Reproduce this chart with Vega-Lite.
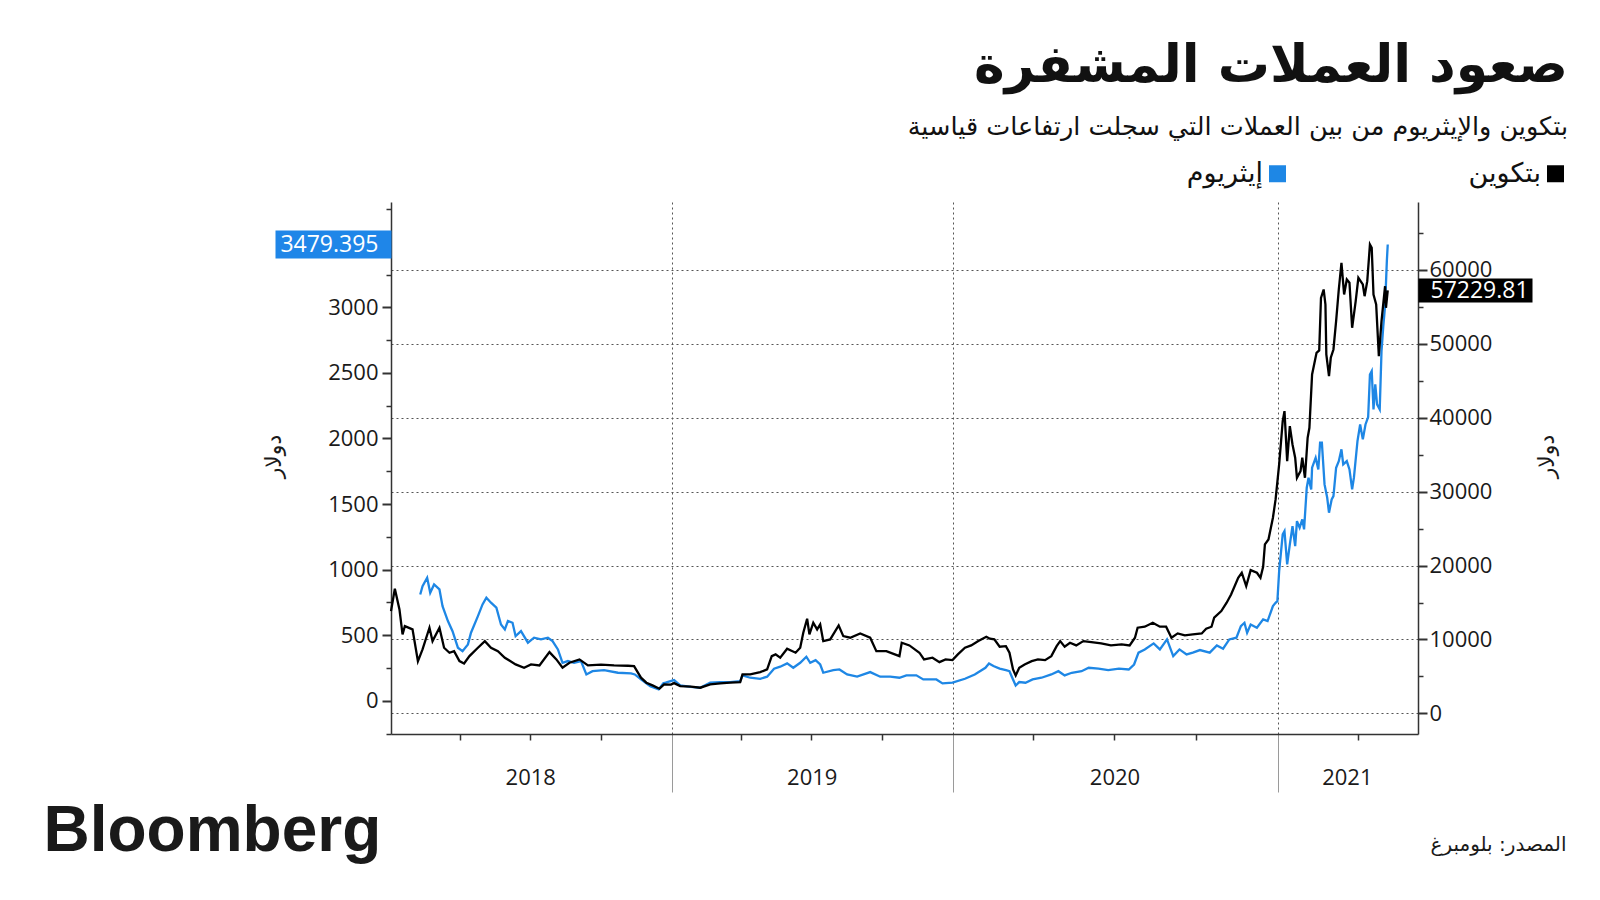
{
"$schema": "https://vega.github.io/schema/vega-lite/v6.json",
"width": 1027, "height": 532,
"autosize": {"type": "none"},
"padding": {"left": 391, "top": 202, "right": 182, "bottom": 166},
"background": "white",
"config": {
  "view": {"stroke": null},
  "axis": {"labelFont": "Open Sans", "labelFontSize": 22, "labelColor": "#1a1a1a", "titleFont": "DejaVu Sans", "titleFontWeight": "normal", "titleFontSize": 22, "titleColor": "#1a1a1a", "domainColor": "#333333", "tickColor": "#333333", "labelOverlap": false, "labelBound": false, "labelFlush": false}
},
"title": {"text": "صعود العملات المشفرة", "subtitle": "بتكوين والإيثريوم من بين العملات التي سجلت ارتفاعات قياسية", "anchor": "end", "frame": "group", "dx": 150, "font": "DejaVu Sans", "fontSize": 52, "fontWeight": "bold", "color": "#111111", "subtitleFont": "DejaVu Sans", "subtitleFontSize": 25.5, "subtitleColor": "#111111", "subtitlePadding": 22, "offset": 19},
"datasets": {"p": [
{"d":"2018-01-01","s":"BTC","v":13837},{"d":"2018-01-06","s":"BTC","v":16866},{"d":"2018-01-12","s":"BTC","v":14067},{"d":"2018-01-16","s":"BTC","v":10686},{"d":"2018-01-19","s":"BTC","v":11808},{"d":"2018-01-29","s":"BTC","v":11362},{"d":"2018-02-05","s":"BTC","v":7074},{"d":"2018-02-11","s":"BTC","v":8657},{"d":"2018-02-20","s":"BTC","v":11590},{"d":"2018-02-24","s":"BTC","v":9780},{"d":"2018-03-05","s":"BTC","v":11590},{"d":"2018-03-11","s":"BTC","v":8886},{"d":"2018-03-18","s":"BTC","v":8210},{"d":"2018-03-24","s":"BTC","v":8427},{"d":"2018-03-31","s":"BTC","v":7074},{"d":"2018-04-06","s":"BTC","v":6763},{"d":"2018-04-13","s":"BTC","v":7751},{"d":"2018-04-24","s":"BTC","v":8886},{"d":"2018-05-03","s":"BTC","v":9780},{"d":"2018-05-11","s":"BTC","v":8886},{"d":"2018-05-20","s":"BTC","v":8427},{"d":"2018-05-29","s":"BTC","v":7534},{"d":"2018-06-12","s":"BTC","v":6628},{"d":"2018-06-23","s":"BTC","v":6181},{"d":"2018-07-02","s":"BTC","v":6628},{"d":"2018-07-13","s":"BTC","v":6492},{"d":"2018-07-26","s":"BTC","v":8291},{"d":"2018-08-04","s":"BTC","v":7304},{"d":"2018-08-12","s":"BTC","v":6181},{"d":"2018-08-21","s":"BTC","v":6858},{"d":"2018-09-03","s":"BTC","v":7304},{"d":"2018-09-14","s":"BTC","v":6492},{"d":"2018-10-01","s":"BTC","v":6600},{"d":"2018-10-18","s":"BTC","v":6500},{"d":"2018-11-05","s":"BTC","v":6450},{"d":"2018-11-13","s":"BTC","v":6400},{"d":"2018-11-22","s":"BTC","v":4829},{"d":"2018-11-29","s":"BTC","v":4153},{"d":"2018-12-07","s":"BTC","v":3787},{"d":"2018-12-16","s":"BTC","v":3341},{"d":"2018-12-22","s":"BTC","v":3922},{"d":"2018-12-31","s":"BTC","v":3900},{"d":"2019-01-04","s":"BTC","v":4100},{"d":"2019-01-12","s":"BTC","v":3693},{"d":"2019-01-26","s":"BTC","v":3611},{"d":"2019-02-07","s":"BTC","v":3476},{"d":"2019-02-20","s":"BTC","v":3923},{"d":"2019-03-05","s":"BTC","v":4058},{"d":"2019-03-18","s":"BTC","v":4153},{"d":"2019-03-31","s":"BTC","v":4234},{"d":"2019-04-03","s":"BTC","v":5275},{"d":"2019-04-13","s":"BTC","v":5275},{"d":"2019-04-26","s":"BTC","v":5586},{"d":"2019-05-05","s":"BTC","v":5951},{"d":"2019-05-11","s":"BTC","v":7751},{"d":"2019-05-16","s":"BTC","v":7980},{"d":"2019-05-22","s":"BTC","v":7534},{"d":"2019-05-31","s":"BTC","v":8751},{"d":"2019-06-11","s":"BTC","v":8210},{"d":"2019-06-17","s":"BTC","v":8886},{"d":"2019-06-21","s":"BTC","v":10915},{"d":"2019-06-26","s":"BTC","v":12809},{"d":"2019-06-29","s":"BTC","v":10686},{"d":"2019-07-04","s":"BTC","v":12268},{"d":"2019-07-09","s":"BTC","v":11362},{"d":"2019-07-13","s":"BTC","v":12038},{"d":"2019-07-17","s":"BTC","v":9780},{"d":"2019-07-26","s":"BTC","v":10009},{"d":"2019-08-06","s":"BTC","v":11903},{"d":"2019-08-12","s":"BTC","v":10456},{"d":"2019-08-21","s":"BTC","v":10239},{"d":"2019-09-03","s":"BTC","v":10821},{"d":"2019-09-16","s":"BTC","v":10239},{"d":"2019-09-24","s":"BTC","v":8427},{"d":"2019-10-07","s":"BTC","v":8427},{"d":"2019-10-18","s":"BTC","v":7980},{"d":"2019-10-24","s":"BTC","v":7751},{"d":"2019-10-27","s":"BTC","v":9563},{"d":"2019-11-06","s":"BTC","v":9198},{"d":"2019-11-19","s":"BTC","v":8210},{"d":"2019-11-25","s":"BTC","v":7304},{"d":"2019-12-06","s":"BTC","v":7534},{"d":"2019-12-15","s":"BTC","v":6939},{"d":"2019-12-23","s":"BTC","v":7304},{"d":"2020-01-01","s":"BTC","v":7210},{"d":"2020-01-07","s":"BTC","v":7980},{"d":"2020-01-15","s":"BTC","v":8886},{"d":"2020-01-22","s":"BTC","v":9198},{"d":"2020-01-30","s":"BTC","v":9780},{"d":"2020-02-08","s":"BTC","v":10375},{"d":"2020-02-12","s":"BTC","v":10104},{"d":"2020-02-17","s":"BTC","v":10009},{"d":"2020-02-23","s":"BTC","v":9022},{"d":"2020-03-01","s":"BTC","v":9103},{"d":"2020-03-05","s":"BTC","v":8210},{"d":"2020-03-09","s":"BTC","v":5951},{"d":"2020-03-12","s":"BTC","v":5140},{"d":"2020-03-16","s":"BTC","v":6181},{"d":"2020-03-22","s":"BTC","v":6628},{"d":"2020-03-30","s":"BTC","v":7074},{"d":"2020-04-06","s":"BTC","v":7304},{"d":"2020-04-14","s":"BTC","v":7210},{"d":"2020-04-21","s":"BTC","v":7751},{"d":"2020-04-27","s":"BTC","v":9103},{"d":"2020-05-01","s":"BTC","v":9780},{"d":"2020-05-06","s":"BTC","v":9022},{"d":"2020-05-12","s":"BTC","v":9563},{"d":"2020-05-19","s":"BTC","v":9198},{"d":"2020-05-27","s":"BTC","v":9780},{"d":"2020-06-05","s":"BTC","v":9644},{"d":"2020-06-16","s":"BTC","v":9468},{"d":"2020-06-27","s":"BTC","v":9198},{"d":"2020-07-09","s":"BTC","v":9333},{"d":"2020-07-18","s":"BTC","v":9198},{"d":"2020-07-24","s":"BTC","v":10239},{"d":"2020-07-27","s":"BTC","v":11590},{"d":"2020-08-04","s":"BTC","v":11727},{"d":"2020-08-13","s":"BTC","v":12268},{"d":"2020-08-21","s":"BTC","v":11727},{"d":"2020-08-28","s":"BTC","v":11727},{"d":"2020-09-03","s":"BTC","v":10239},{"d":"2020-09-10","s":"BTC","v":10821},{"d":"2020-09-18","s":"BTC","v":10550},{"d":"2020-09-27","s":"BTC","v":10686},{"d":"2020-10-07","s":"BTC","v":10821},{"d":"2020-10-12","s":"BTC","v":11457},{"d":"2020-10-18","s":"BTC","v":11727},{"d":"2020-10-21","s":"BTC","v":12945},{"d":"2020-10-29","s":"BTC","v":13837},{"d":"2020-11-04","s":"BTC","v":14973},{"d":"2020-11-09","s":"BTC","v":16096},{"d":"2020-11-17","s":"BTC","v":18355},{"d":"2020-11-21","s":"BTC","v":19031},{"d":"2020-11-26","s":"BTC","v":17218},{"d":"2020-12-01","s":"BTC","v":19383},{"d":"2020-12-08","s":"BTC","v":19031},{"d":"2020-12-12","s":"BTC","v":18355},{"d":"2020-12-15","s":"BTC","v":19843},{"d":"2020-12-17","s":"BTC","v":22859},{"d":"2020-12-21","s":"BTC","v":23535},{"d":"2020-12-26","s":"BTC","v":26471},{"d":"2020-12-29","s":"BTC","v":28946},{"d":"2021-01-02","s":"BTC","v":33680},{"d":"2021-01-06","s":"BTC","v":39537},{"d":"2021-01-08","s":"BTC","v":40890},{"d":"2021-01-11","s":"BTC","v":34127},{"d":"2021-01-14","s":"BTC","v":38861},{"d":"2021-01-17","s":"BTC","v":36385},{"d":"2021-01-20","s":"BTC","v":34587},{"d":"2021-01-22","s":"BTC","v":31881},{"d":"2021-01-26","s":"BTC","v":32774},{"d":"2021-01-28","s":"BTC","v":34587},{"d":"2021-01-31","s":"BTC","v":31881},{"d":"2021-02-03","s":"BTC","v":37290},{"d":"2021-02-05","s":"BTC","v":38643},{"d":"2021-02-08","s":"BTC","v":45853},{"d":"2021-02-13","s":"BTC","v":48789},{"d":"2021-02-16","s":"BTC","v":49099},{"d":"2021-02-18","s":"BTC","v":56221},{"d":"2021-02-21","s":"BTC","v":57350},{"d":"2021-02-23","s":"BTC","v":55321},{"d":"2021-02-24","s":"BTC","v":48558},{"d":"2021-02-27","s":"BTC","v":45620},{"d":"2021-03-01","s":"BTC","v":48113},{"d":"2021-03-04","s":"BTC","v":49234},{"d":"2021-03-07","s":"BTC","v":53063},{"d":"2021-03-10","s":"BTC","v":57350},{"d":"2021-03-13","s":"BTC","v":60962},{"d":"2021-03-16","s":"BTC","v":56674},{"d":"2021-03-19","s":"BTC","v":58703},{"d":"2021-03-22","s":"BTC","v":58256},{"d":"2021-03-25","s":"BTC","v":52170},{"d":"2021-03-29","s":"BTC","v":55768},{"d":"2021-04-01","s":"BTC","v":58933},{"d":"2021-04-06","s":"BTC","v":58027},{"d":"2021-04-08","s":"BTC","v":56444},{"d":"2021-04-11","s":"BTC","v":58475},{"d":"2021-04-14","s":"BTC","v":63437},{"d":"2021-04-16","s":"BTC","v":62990},{"d":"2021-04-18","s":"BTC","v":56674},{"d":"2021-04-21","s":"BTC","v":55321},{"d":"2021-04-24","s":"BTC","v":48330},{"d":"2021-04-27","s":"BTC","v":53063},{"d":"2021-05-01","s":"BTC","v":57797},{"d":"2021-05-02","s":"BTC","v":54876},{"d":"2021-05-04","s":"BTC","v":57229.81},
{"d":"2018-02-08","s":"ETH","v":811},{"d":"2018-02-11","s":"ETH","v":874},{"d":"2018-02-17","s":"ETH","v":938},{"d":"2018-02-21","s":"ETH","v":824},{"d":"2018-02-26","s":"ETH","v":887},{"d":"2018-03-05","s":"ETH","v":849},{"d":"2018-03-09","s":"ETH","v":722},{"d":"2018-03-16","s":"ETH","v":608},{"d":"2018-03-22","s":"ETH","v":531},{"d":"2018-03-29","s":"ETH","v":405},{"d":"2018-04-04","s":"ETH","v":379},{"d":"2018-04-11","s":"ETH","v":430},{"d":"2018-04-15","s":"ETH","v":519},{"d":"2018-04-24","s":"ETH","v":646},{"d":"2018-04-30","s":"ETH","v":735},{"d":"2018-05-05","s":"ETH","v":786},{"d":"2018-05-11","s":"ETH","v":748},{"d":"2018-05-18","s":"ETH","v":710},{"d":"2018-05-24","s":"ETH","v":582},{"d":"2018-05-29","s":"ETH","v":544},{"d":"2018-06-02","s":"ETH","v":608},{"d":"2018-06-08","s":"ETH","v":595},{"d":"2018-06-12","s":"ETH","v":493},{"d":"2018-06-19","s":"ETH","v":531},{"d":"2018-06-28","s":"ETH","v":443},{"d":"2018-07-06","s":"ETH","v":481},{"d":"2018-07-15","s":"ETH","v":468},{"d":"2018-07-24","s":"ETH","v":481},{"d":"2018-07-30","s":"ETH","v":455},{"d":"2018-08-06","s":"ETH","v":392},{"d":"2018-08-12","s":"ETH","v":290},{"d":"2018-08-19","s":"ETH","v":303},{"d":"2018-08-27","s":"ETH","v":290},{"d":"2018-09-05","s":"ETH","v":303},{"d":"2018-09-12","s":"ETH","v":201},{"d":"2018-09-20","s":"ETH","v":226},{"d":"2018-10-05","s":"ETH","v":234},{"d":"2018-10-23","s":"ETH","v":214},{"d":"2018-11-09","s":"ETH","v":209},{"d":"2018-11-14","s":"ETH","v":201},{"d":"2018-11-22","s":"ETH","v":163},{"d":"2018-12-04","s":"ETH","v":112},{"d":"2018-12-15","s":"ETH","v":87},{"d":"2018-12-21","s":"ETH","v":133},{"d":"2018-12-24","s":"ETH","v":138},{"d":"2019-01-04","s":"ETH","v":158},{"d":"2019-01-12","s":"ETH","v":117},{"d":"2019-01-26","s":"ETH","v":107},{"d":"2019-02-07","s":"ETH","v":100},{"d":"2019-02-20","s":"ETH","v":138},{"d":"2019-03-05","s":"ETH","v":143},{"d":"2019-03-18","s":"ETH","v":143},{"d":"2019-03-31","s":"ETH","v":150},{"d":"2019-04-03","s":"ETH","v":194},{"d":"2019-04-13","s":"ETH","v":176},{"d":"2019-04-26","s":"ETH","v":168},{"d":"2019-05-05","s":"ETH","v":184},{"d":"2019-05-14","s":"ETH","v":245},{"d":"2019-05-22","s":"ETH","v":260},{"d":"2019-05-31","s":"ETH","v":285},{"d":"2019-06-08","s":"ETH","v":252},{"d":"2019-06-17","s":"ETH","v":290},{"d":"2019-06-25","s":"ETH","v":336},{"d":"2019-06-30","s":"ETH","v":290},{"d":"2019-07-07","s":"ETH","v":310},{"d":"2019-07-13","s":"ETH","v":277},{"d":"2019-07-17","s":"ETH","v":214},{"d":"2019-07-30","s":"ETH","v":234},{"d":"2019-08-07","s":"ETH","v":239},{"d":"2019-08-17","s":"ETH","v":201},{"d":"2019-08-30","s":"ETH","v":184},{"d":"2019-09-16","s":"ETH","v":219},{"d":"2019-09-29","s":"ETH","v":184},{"d":"2019-10-12","s":"ETH","v":184},{"d":"2019-10-24","s":"ETH","v":176},{"d":"2019-11-02","s":"ETH","v":194},{"d":"2019-11-15","s":"ETH","v":194},{"d":"2019-11-24","s":"ETH","v":163},{"d":"2019-12-11","s":"ETH","v":163},{"d":"2019-12-19","s":"ETH","v":133},{"d":"2020-01-01","s":"ETH","v":138},{"d":"2020-01-15","s":"ETH","v":168},{"d":"2020-01-26","s":"ETH","v":201},{"d":"2020-02-07","s":"ETH","v":252},{"d":"2020-02-11","s":"ETH","v":285},{"d":"2020-02-16","s":"ETH","v":265},{"d":"2020-02-23","s":"ETH","v":245},{"d":"2020-03-01","s":"ETH","v":234},{"d":"2020-03-05","s":"ETH","v":226},{"d":"2020-03-09","s":"ETH","v":163},{"d":"2020-03-12","s":"ETH","v":117},{"d":"2020-03-16","s":"ETH","v":143},{"d":"2020-03-23","s":"ETH","v":138},{"d":"2020-03-31","s":"ETH","v":163},{"d":"2020-04-10","s":"ETH","v":176},{"d":"2020-04-21","s":"ETH","v":201},{"d":"2020-04-29","s":"ETH","v":226},{"d":"2020-05-06","s":"ETH","v":194},{"d":"2020-05-14","s":"ETH","v":214},{"d":"2020-05-25","s":"ETH","v":226},{"d":"2020-06-02","s":"ETH","v":252},{"d":"2020-06-13","s":"ETH","v":245},{"d":"2020-06-24","s":"ETH","v":234},{"d":"2020-07-06","s":"ETH","v":245},{"d":"2020-07-17","s":"ETH","v":239},{"d":"2020-07-23","s":"ETH","v":277},{"d":"2020-07-28","s":"ETH","v":367},{"d":"2020-08-04","s":"ETH","v":392},{"d":"2020-08-14","s":"ETH","v":438},{"d":"2020-08-21","s":"ETH","v":392},{"d":"2020-08-29","s":"ETH","v":468},{"d":"2020-09-05","s":"ETH","v":341},{"d":"2020-09-12","s":"ETH","v":392},{"d":"2020-09-20","s":"ETH","v":354},{"d":"2020-09-27","s":"ETH","v":367},{"d":"2020-10-05","s":"ETH","v":387},{"d":"2020-10-16","s":"ETH","v":367},{"d":"2020-10-24","s":"ETH","v":422},{"d":"2020-10-31","s":"ETH","v":397},{"d":"2020-11-07","s":"ETH","v":468},{"d":"2020-11-15","s":"ETH","v":481},{"d":"2020-11-20","s":"ETH","v":570},{"d":"2020-11-24","s":"ETH","v":595},{"d":"2020-11-27","s":"ETH","v":519},{"d":"2020-12-01","s":"ETH","v":582},{"d":"2020-12-08","s":"ETH","v":557},{"d":"2020-12-15","s":"ETH","v":621},{"d":"2020-12-20","s":"ETH","v":608},{"d":"2020-12-26","s":"ETH","v":722},{"d":"2020-12-29","s":"ETH","v":747},{"d":"2020-12-31","s":"ETH","v":760},{"d":"2021-01-02","s":"ETH","v":989},{"d":"2021-01-06","s":"ETH","v":1269},{"d":"2021-01-08","s":"ETH","v":1294},{"d":"2021-01-11","s":"ETH","v":1040},{"d":"2021-01-14","s":"ETH","v":1192},{"d":"2021-01-17","s":"ETH","v":1332},{"d":"2021-01-20","s":"ETH","v":1179},{"d":"2021-01-22","s":"ETH","v":1370},{"d":"2021-01-25","s":"ETH","v":1320},{"d":"2021-01-28","s":"ETH","v":1383},{"d":"2021-01-30","s":"ETH","v":1307},{"d":"2021-02-02","s":"ETH","v":1625},{"d":"2021-02-04","s":"ETH","v":1701},{"d":"2021-02-07","s":"ETH","v":1612},{"d":"2021-02-08","s":"ETH","v":1777},{"d":"2021-02-12","s":"ETH","v":1853},{"d":"2021-02-15","s":"ETH","v":1764},{"d":"2021-02-17","s":"ETH","v":1968},{"d":"2021-02-19","s":"ETH","v":1968},{"d":"2021-02-22","s":"ETH","v":1650},{"d":"2021-02-25","s":"ETH","v":1548},{"d":"2021-02-27","s":"ETH","v":1434},{"d":"2021-03-02","s":"ETH","v":1535},{"d":"2021-03-04","s":"ETH","v":1561},{"d":"2021-03-07","s":"ETH","v":1777},{"d":"2021-03-10","s":"ETH","v":1827},{"d":"2021-03-13","s":"ETH","v":1917},{"d":"2021-03-15","s":"ETH","v":1802},{"d":"2021-03-19","s":"ETH","v":1827},{"d":"2021-03-22","s":"ETH","v":1764},{"d":"2021-03-25","s":"ETH","v":1612},{"d":"2021-03-27","s":"ETH","v":1701},{"d":"2021-03-31","s":"ETH","v":1980},{"d":"2021-04-03","s":"ETH","v":2107},{"d":"2021-04-06","s":"ETH","v":1993},{"d":"2021-04-09","s":"ETH","v":2107},{"d":"2021-04-12","s":"ETH","v":2163},{"d":"2021-04-14","s":"ETH","v":2488},{"d":"2021-04-16","s":"ETH","v":2514},{"d":"2021-04-18","s":"ETH","v":2222},{"d":"2021-04-20","s":"ETH","v":2412},{"d":"2021-04-22","s":"ETH","v":2260},{"d":"2021-04-25","s":"ETH","v":2222},{"d":"2021-04-27","s":"ETH","v":2666},{"d":"2021-04-29","s":"ETH","v":2857},{"d":"2021-05-01","s":"ETH","v":3009},{"d":"2021-05-03","s":"ETH","v":3352},{"d":"2021-05-04","s":"ETH","v":3479.395}
]},
"data": {"name": "p"},
"layer": [
  {
    "transform": [{"filter": "datum.s === 'ETH'"}],
    "mark": {"type": "line", "strokeWidth": 2.3},
    "encoding": {
      "x": {"field": "d", "type": "temporal",
        "scale": {"type": "utc", "nice": false, "domain": [1514764800000, 1577836800000, 1623024000000], "domainRaw": {"expr": "[utc(2018,0,1), utc(2020,0,1), utc(2021,5,7)]"}, "range": [0, 561.5, 1027]},
        "axis": {"orient": "bottom", "values": [1546300800000, 1577836800000, 1609459200000],
          "grid": true, "gridDash": [2, 3], "gridColor": "#555555", "gridWidth": 1,
          "ticks": true, "tickSize": 58, "tickColor": "#9a9a9a", "tickWidth": 1,
          "labels": false, "domain": true, "domainColor": "#333333", "domainWidth": 1.5,
          "title": "Bloomberg", "titleFont": "Liberation Sans", "titleFontSize": 64, "titleFontWeight": "bold", "titleColor": "#1a1a1a", "titleX": -348, "titleY": 116, "titleAlign": "left", "titleBaseline": "alphabetic", "titleAngle": 0}},
      "y": {"field": "v", "type": "quantitative",
        "scale": {"domain": [-253, 3803], "nice": false, "zero": false},
        "axis": {"orient": "left", "values": [-250, 0, 250, 500, 750, 1000, 1250, 1500, 1750, 2000, 2250, 2500, 2750, 3000, 3250, 3750],
          "labelExpr": "datum.value % 500 === 0 && datum.value >= 0 && datum.value <= 3000 ? datum.value : ''",
          "tickSize": {"condition": {"test": "datum.value % 500 === 0", "value": 9}, "value": 5},
          "tickWidth": {"condition": {"test": "datum.value % 500 === 0", "value": 2}, "value": 1.5},
          "labelPadding": 4, "grid": false, "domain": true, "domainWidth": 1.5,
          "title": "دولار", "titleAngle": 270, "titleX": -118, "titleY": 254, "titleAlign": "center", "titleBaseline": "middle"}},
      "color": {"field": "s", "type": "nominal", "scale": {"domain": ["ETH", "BTC"], "range": ["#1e87e5", "#000000"]},
        "legend": {"title": null, "orient": "none", "legendX": 873, "legendY": -42, "direction": "horizontal", "symbolType": "square", "symbolSize": 289, "symbolStrokeWidth": 0, "labelFont": "DejaVu Sans", "labelFontSize": 27, "labelColor": "#111111", "labelAlign": "right", "labelOffset": -28, "columnPadding": 182, "labelLimit": 300, "padding": 0,
          "labelExpr": "datum.label === 'BTC' ? 'بتكوين' : 'إيثريوم'",
          "encode": {"symbols": {"update": {"fill": {"scale": "color", "field": "value"}, "opacity": {"value": 1}}}}}}
    }
  },
  {
    "transform": [{"filter": "datum.s === 'BTC'"}],
    "mark": {"type": "line", "strokeWidth": 2.3},
    "encoding": {
      "x": {"field": "d", "type": "temporal",
        "scale": {"type": "utc", "nice": false, "domain": [1514764800000, 1577836800000, 1623024000000], "domainRaw": {"expr": "[utc(2018,0,1), utc(2020,0,1), utc(2021,5,7)]"}, "range": [0, 561.5, 1027]},
        "axis": {"orient": "bottom", "values": [1522540800000, 1530403200000, 1538352000000, 1554076800000, 1561939200000, 1569888000000, 1585699200000, 1593561600000, 1601510400000, 1617235200000],
          "grid": false, "ticks": true, "tickSize": 6, "tickWidth": 1.5, "tickColor": "#333333", "labels": false, "domain": false,
          "title": "المصدر: بلومبرغ", "titleFont": "DejaVu Sans", "titleFontSize": 20, "titleColor": "#1a1a1a", "titleX": 1175, "titleY": 110, "titleAlign": "right", "titleBaseline": "middle", "titleAngle": 0}},
      "y": {"field": "v", "type": "quantitative",
        "scale": {"domain": [-2786, 69186], "nice": false, "zero": false},
        "axis": {"orient": "right", "values": [0, 5000, 10000, 15000, 20000, 25000, 30000, 35000, 40000, 45000, 50000, 55000, 60000, 65000],
          "labelExpr": "datum.value % 10000 === 0 ? datum.value : ''",
          "tickSize": {"condition": {"test": "datum.value % 10000 === 0", "value": 9}, "value": 5},
          "tickWidth": {"condition": {"test": "datum.value % 10000 === 0", "value": 2}, "value": 1.5},
          "labelPadding": 2, "grid": true, "gridDash": [2, 3], "gridColor": "#555555", "gridWidth": 1,
          "gridOpacity": {"condition": {"test": "datum.value % 10000 === 0", "value": 1}, "value": 0},
          "domain": true, "domainWidth": 1.5,
          "title": "دولار", "titleAngle": 270, "titleX": 128, "titleY": 254, "titleAlign": "center", "titleBaseline": "middle"}},
      "color": {"field": "s", "type": "nominal", "scale": {"domain": ["ETH", "BTC"], "range": ["#1e87e5", "#000000"]},
        "legend": {"title": null, "orient": "none", "legendX": 873, "legendY": -42, "direction": "horizontal", "symbolType": "square", "symbolSize": 289, "symbolStrokeWidth": 0, "labelFont": "DejaVu Sans", "labelFontSize": 27, "labelColor": "#111111", "labelAlign": "right", "labelOffset": -28, "columnPadding": 182, "labelLimit": 300, "padding": 0,
          "labelExpr": "datum.label === 'BTC' ? 'بتكوين' : 'إيثريوم'",
          "encode": {"symbols": {"update": {"fill": {"scale": "color", "field": "value"}, "opacity": {"value": 1}}}}}}
    }
  },
  {
    "transform": [{"filter": "datum.s === 'ETH' && datum.d === '2021-05-04'"}],
    "mark": {"type": "point", "opacity": 0},
    "encoding": {
      "x": {"field": "d", "type": "temporal",
        "scale": {"type": "utc", "nice": false, "domain": [1514764800000, 1577836800000, 1623024000000], "domainRaw": {"expr": "[utc(2018,0,1), utc(2020,0,1), utc(2021,5,7)]"}, "range": [0, 561.5, 1027]},
        "axis": {"orient": "bottom", "values": [1530403200000, 1562025600000, 1593561600000, 1616112000000],
          "format": "%Y", "grid": false, "ticks": false, "domain": false, "labelPadding": 33, "labelFontSize": 22, "labelAlign": "center", "title": null}},
      "y": {"field": "v", "type": "quantitative",
        "scale": {"domain": [-253, 3803], "nice": false, "zero": false},
        "axis": {"orient": "left", "values": [3479.395], "format": ".3f", "grid": false, "domain": false,
          "ticks": true, "tickSize": 116, "tickWidth": 28, "tickColor": "#1f86e8",
          "labelColor": "#ffffff", "labelFontSize": 23, "labelPadding": -103, "title": null}}
    }
  },
  {
    "transform": [{"filter": "datum.s === 'BTC' && datum.d === '2021-05-04'"}],
    "mark": {"type": "point", "opacity": 0},
    "encoding": {
      "x": {"field": "d", "type": "temporal",
        "scale": {"type": "utc", "nice": false, "domain": [1514764800000, 1577836800000, 1623024000000], "domainRaw": {"expr": "[utc(2018,0,1), utc(2020,0,1), utc(2021,5,7)]"}, "range": [0, 561.5, 1027]},
        "axis": null},
      "y": {"field": "v", "type": "quantitative",
        "scale": {"domain": [-2786, 69186], "nice": false, "zero": false},
        "axis": {"orient": "right", "values": [57229.81], "format": ".2f", "grid": false, "domain": false,
          "ticks": true, "tickSize": 114, "tickWidth": 24, "tickColor": "#000000",
          "labelColor": "#ffffff", "labelFontSize": 23, "labelPadding": -102, "title": null}}
    }
  }
],
"resolve": {"scale": {"x": "independent", "y": "independent"}, "axis": {"x": "independent", "y": "independent"}}
}
